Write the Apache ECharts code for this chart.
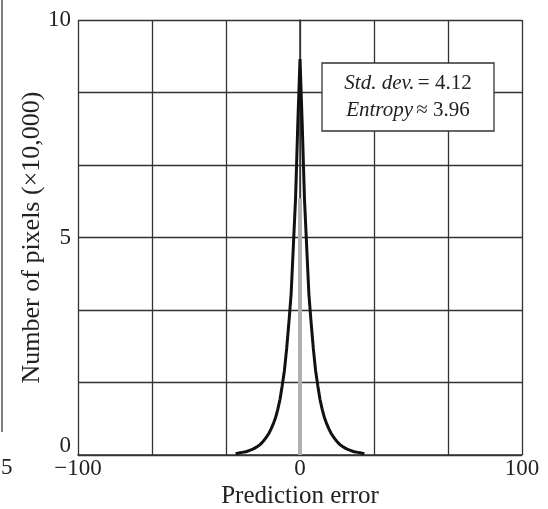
<!DOCTYPE html>
<html><head><meta charset="utf-8">
<script src="https://cdn.jsdelivr.net/npm/echarts@6/dist/echarts.min.js"></script>
<style>html,body{margin:0;padding:0;background:#fff}#c{width:548px;height:509px}</style>
</head><body><div id="c"></div>
<script>
const errors = [-29,-28,-27,-26,-25,-24,-23,-22,-21,-20,-19,-18,-17,-16,-15,-14,-13,-12,-11,-10,-9,-8,-7,-6,-5,-4,-3,-2,-1,0,1,2,3,4,5,6,7,8,9,10,11,12,13,14,15,16,17,18,19,20,21,22,23,24,25,26,27,28,29];
const counts = [0.03,0.04,0.05,0.06,0.07,0.08,0.1,0.12,0.14,0.17,0.2,0.24,0.29,0.35,0.42,0.5,0.6,0.72,0.86,1.05,1.28,1.6,1.95,2.45,3.05,3.7,4.8,5.9,7.6,9.1,7.6,5.9,4.8,3.7,3.05,2.45,1.95,1.6,1.28,1.05,0.86,0.72,0.6,0.5,0.42,0.35,0.29,0.24,0.2,0.17,0.14,0.12,0.1,0.08,0.07,0.06,0.05,0.04,0.03];
const zeroBar = [[0,0],[0,5.9]];
const xTickLabels = {'-100':'−100','0':'0','100':'100'};
const yTickLabels = {'0':'0','5':'5','10':'10'};
const stdDev = '4.12', entropy = '3.96';

const font = 'Liberation Serif';
const chart = echarts.init(document.getElementById('c'));
chart.setOption({
  animation:false,
  grid:{left:78,right:26,top:20,bottom:54,containLabel:false,outerBoundsMode:'none'},
  xAxis:{type:'value',min:-100,max:100,interval:100/3,
    name:'Prediction error',nameLocation:'middle',nameGap:29,nameMoveOverlap:false,
    nameTextStyle:{fontFamily:font,fontSize:25,color:'#222'},
    axisLine:{lineStyle:{color:'#333',width:1.5}},
    axisTick:{show:false},
    splitLine:{show:true,lineStyle:{color:'#333',width:1.3}},
    axisLabel:{margin:2,fontFamily:font,fontSize:23,color:'#222',
      formatter:v=>{const r=String(Math.round(v));return (Math.abs(v-Math.round(v))<1e-6&&xTickLabels[r]!==undefined)?xTickLabels[r]:'';}}
  },
  yAxis:{type:'value',min:0,max:10,interval:10/6,
    name:'Number of pixels (×10,000)',nameLocation:'middle',nameGap:33,nameRotate:90,nameMoveOverlap:false,
    nameTextStyle:{fontFamily:font,fontSize:26,color:'#222'},
    axisLine:{show:true,lineStyle:{color:'#333',width:1.5}},
    axisTick:{show:false},
    splitLine:{show:true,lineStyle:{color:'#333',width:1.3}},
    axisLabel:{margin:7,fontFamily:font,fontSize:23,color:'#222',
      formatter:v=>{const r=String(Math.round(v));if(Math.abs(v-Math.round(v))>1e-6||yTickLabels[r]===undefined)return '';return r==='0'?'{z|0}':yTickLabels[r];},
      rich:{z:{fontFamily:font,fontSize:23,color:'#222',padding:[0,0,18,0]}}}
  },
  graphic:[
    {type:'line',shape:{x1:2,y1:0,x2:2,y2:432},style:{stroke:'#555',lineWidth:1.5}},
    {type:'text',left:1,top:456,style:{text:'5',font:'23px "Liberation Serif"',fill:'#222'}},
    {type:'rect',shape:{x:322,y:63,width:172,height:68},style:{fill:'#fff',stroke:'#333',lineWidth:1.3},z:10},
    {type:'text',x:408,y:97,z:11,style:{
      text:'{i|Std. dev.} {n|= '+stdDev+'}\n{i|Entropy} {n|≈ '+entropy+'}',
      align:'center',verticalAlign:'middle',
      rich:{i:{fontFamily:font,fontStyle:'italic',fontSize:21,fill:'#222',lineHeight:27},
            n:{fontFamily:font,fontSize:21,fill:'#222',lineHeight:27}}}}
  ],
  series:[
    {type:'line',data:zeroBar,showSymbol:false,lineStyle:{color:'#b0b0b0',width:4},z:1},
    {type:'line',data:errors.map((e,i)=>[e,counts[i]]),showSymbol:false,lineStyle:{color:'#111',width:3},z:2}
  ]
});
</script></body></html>
